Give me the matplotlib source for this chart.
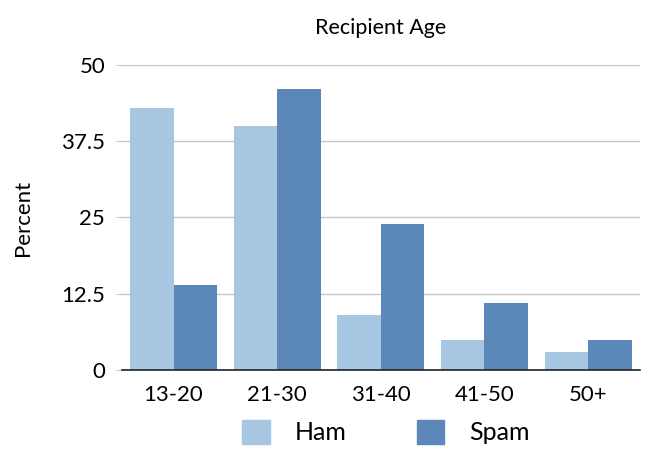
import numpy as np
import matplotlib.pyplot as plt
from matplotlib.patches import Patch

plt.rcParams['font.family'] = ['Lato', 'DejaVu Sans']

# age groups and percentages
ages = ['13-20', '21-30', '31-40', '41-50', '50+']
ham = [43, 40, 9, 5, 3]
spam = [14, 46, 24, 11, 5]

ham_color = '#a6c6e1'
spam_color = '#5b88b9'

fig = plt.figure(figsize=(6.51, 4.53), dpi=100)
ax = fig.add_axes([0.187, 0.183, 0.796, 0.674])

x = np.arange(len(ages))
w = 0.42
ax.bar(x - w / 2, ham, w, color=ham_color, zorder=2)
ax.bar(x + w / 2, spam, w, color=spam_color, zorder=2)

ax.set_xlim(-0.5, len(ages) - 0.5)
ax.set_ylim(0, 50)
ax.set_yticks([0, 12.5, 25, 37.5, 50])
ax.set_yticklabels(['0', '12.5', '25', '37.5', '50'])
ax.set_xticks(x)
ax.set_xticklabels(ages)

ax.yaxis.grid(True, color='#c8c8c8', linewidth=1, zorder=0)
for s in ['top', 'right', 'left']:
    ax.spines[s].set_visible(False)
ax.spines['bottom'].set_color('#222222')
ax.spines['bottom'].set_linewidth(1.2)
ax.spines['bottom'].set_zorder(3)

ax.tick_params(axis='y', length=4, color='#c8c8c8', labelsize=16, pad=8)
ax.tick_params(axis='x', length=0, labelsize=16, pad=11)

ax.set_ylabel('Percent', fontsize=16, labelpad=20)
ax.set_title('Recipient Age', fontsize=15.5, pad=22)

handles = [Patch(color=ham_color, label='Ham'), Patch(color=spam_color, label='Spam')]
fig.legend(handles=handles, loc='lower center', bbox_to_anchor=(0.593, -0.03),
           ncol=2, frameon=False, fontsize=18, handlelength=1.1, handleheight=1.1,
           columnspacing=2.8, handletextpad=1.0)

fig.savefig('out.png', dpi=100)
